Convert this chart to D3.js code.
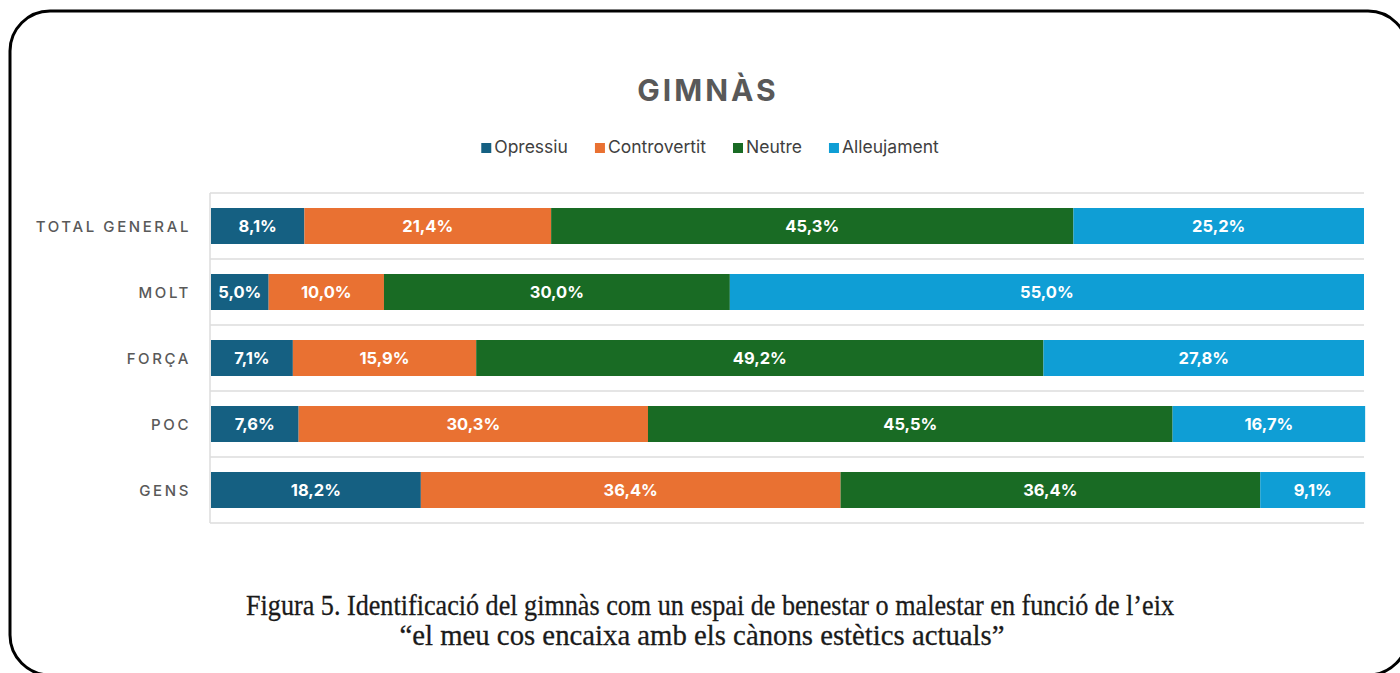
<!DOCTYPE html>
<html>
<head>
<meta charset="utf-8">
<script src="https://cdn.jsdelivr.net/npm/d3@7"></script>
<style>
  html, body { margin: 0; background: #fff; overflow: hidden; }
  svg { display: block; }
</style>
</head>
<body>
<svg id="Chart"></svg>
<script>
// data
let categories = ["TOTAL GENERAL", "MOLT", "FORÇA", "POC", "GENS"]
let seriesNames = ["Opressiu", "Controvertit", "Neutre", "Alleujament"]
let seriesColors = ["#156082", "#e97132", "#196b24", "#0f9ed5"]
let opressiu     = [8.1, 5.0, 7.1, 7.6, 18.2]
let controvertit = [21.4, 10.0, 15.9, 30.3, 36.4]
let neutre       = [45.3, 30.0, 49.2, 45.5, 36.4]
let alleujament  = [25.2, 55.0, 27.8, 16.7, 9.1]
let chartTitle = "GIMNÀS"
let captionLines = [
    "Figura 5. Identificació del gimnàs com un espai de benestar o malestar en funció de l\u2019eix",
    "\u201cel meu cos encaixa amb els cànons estètics actuals\u201d"
]

let config = {}

function initConfig() {
    let width = 1400
    let height = 673
    let plotLeft = 211
    let plotRight = 1364
    let plotTop = 193
    let plotBottom = 523
    let sansFont = "Inter, 'Open Sans', 'DejaVu Sans', sans-serif"
    let serifFont = "'Liberation Serif', 'DejaVu Serif', serif"
    let container = d3.select("#Chart")
        .attr("width", width)
        .attr("height", height)
    config = {width, height, plotLeft, plotRight, plotTop, plotBottom, sansFont, serifFont, container}
}

function buildTable() {
    return categories.map((c, i) => ({
        category: c,
        Opressiu: opressiu[i],
        Controvertit: controvertit[i],
        Neutre: neutre[i],
        Alleujament: alleujament[i]
    }))
}

function drawFrame() {
    let {container} = config
    // right edge of the frame sits just past the picture, only the corners show
    container.append("rect")
        .attr("x", 10)
        .attr("y", 11)
        .attr("width", 1398)
        .attr("height", 664)
        .attr("rx", 40)
        .attr("ry", 40)
        .attr("fill", "none")
        .attr("stroke", "#000")
        .attr("stroke-width", 3)
}

function drawTitle() {
    let {container, sansFont} = config
    container.append("text")
        .attr("x", 708)
        .attr("y", 101)
        .attr("text-anchor", "middle")
        .attr("font-family", sansFont)
        .attr("font-size", "30px")
        .attr("font-weight", "700")
        .attr("letter-spacing", "3px")
        .attr("fill", "#595959")
        .text(chartTitle)
}

function drawLegend() {
    let {container, sansFont} = config
    let legend = container.append("g")
    let x = 0
    seriesNames.forEach((name, i) => {
        let g = legend.append("g").attr("transform", `translate(${x},0)`)
        g.append("rect")
            .attr("x", 0)
            .attr("y", -10)
            .attr("width", 10)
            .attr("height", 10)
            .attr("fill", seriesColors[i])
        let t = g.append("text")
            .attr("x", 13)
            .attr("y", 0)
            .attr("font-family", sansFont)
            .attr("font-size", "17.5px")
            .attr("fill", "#404040")
            .text(name)
        x += 13 + t.node().getComputedTextLength() + 27
    })
    let total = x - 27
    legend.attr("transform", `translate(${710 - total / 2},153)`)
}

function drawBars(table) {
    let {container, plotLeft, plotRight, plotTop, plotBottom, sansFont} = config

    let x = d3.scaleLinear().domain([0, 100]).range([plotLeft, plotRight])
    let y = d3.scaleBand()
        .domain(categories)
        .range([plotTop, plotBottom])
        .paddingInner(30 / 66)
        .paddingOuter(15 / 66)

    // gridlines between the rows
    let gridYs = d3.range(categories.length + 1).map(i => plotTop + i * y.step())
    container.append("g").selectAll("line").data(gridYs)
        .enter().append("line")
        .attr("x1", plotLeft - 1)
        .attr("x2", plotRight)
        .attr("y1", d => d)
        .attr("y2", d => d)
        .attr("stroke", "#dcdcdc")
        .attr("stroke-width", 1.5)

    container.append("line")
        .attr("x1", plotLeft - 1)
        .attr("x2", plotLeft - 1)
        .attr("y1", plotTop)
        .attr("y2", plotBottom)
        .attr("stroke", "#dcdcdc")
        .attr("stroke-width", 1.5)

    let stack = d3.stack().keys(seriesNames)
    let layers = stack(table)

    let groups = container.append("g").selectAll("g").data(layers)
        .enter().append("g")
        .attr("fill", (d, i) => seriesColors[i])

    groups.selectAll("rect").data(d => d)
        .enter().append("rect")
        .attr("x", d => x(d[0]))
        .attr("y", d => y(d.data.category))
        .attr("width", d => x(d[1]) - x(d[0]))
        .attr("height", y.bandwidth())

    groups.selectAll("text").data(d => d)
        .enter().append("text")
        .attr("x", d => (x(d[0]) + x(d[1])) / 2)
        .attr("y", d => y(d.data.category) + y.bandwidth() / 2 + 6)
        .attr("text-anchor", "middle")
        .attr("font-family", sansFont)
        .attr("font-size", "16.5px")
        .attr("font-weight", "700")
        .attr("fill", "#fff")
        .text(d => d3.format(".1f")(d[1] - d[0]).replace(".", ",") + "%")

    // category labels
    container.append("g").selectAll("text").data(categories)
        .enter().append("text")
        .attr("x", 191)
        .attr("y", d => y(d) + y.bandwidth() / 2 + 5.5)
        .attr("text-anchor", "end")
        .attr("font-family", sansFont)
        .attr("font-size", "15px")
        .attr("font-weight", "500")
        .attr("letter-spacing", "2.6px")
        .attr("fill", "#595959")
        .text(d => d)
}

function drawCaption() {
    let {container, serifFont} = config
    let lines = [
        {text: captionLines[0], x: 710, y: 615, len: 928},
        {text: captionLines[1], x: 702, y: 645, len: 605}
    ]
    container.append("g").selectAll("text").data(lines)
        .enter().append("text")
        .attr("x", d => d.x)
        .attr("y", d => d.y)
        .attr("text-anchor", "middle")
        .attr("font-family", serifFont)
        .attr("font-size", "30px")
        .attr("fill", "#1a1a1a")
        .attr("stroke", "#1a1a1a")
        .attr("stroke-width", 0.3)
        .attr("textLength", d => d.len)
        .attr("lengthAdjust", "spacingAndGlyphs")
        .text(d => d.text)
}

function draw() {
    initConfig()
    let table = buildTable()
    drawFrame()
    drawTitle()
    drawLegend()
    drawBars(table)
    drawCaption()
}

window.addEventListener("load", draw)
</script>
</body>
</html>
